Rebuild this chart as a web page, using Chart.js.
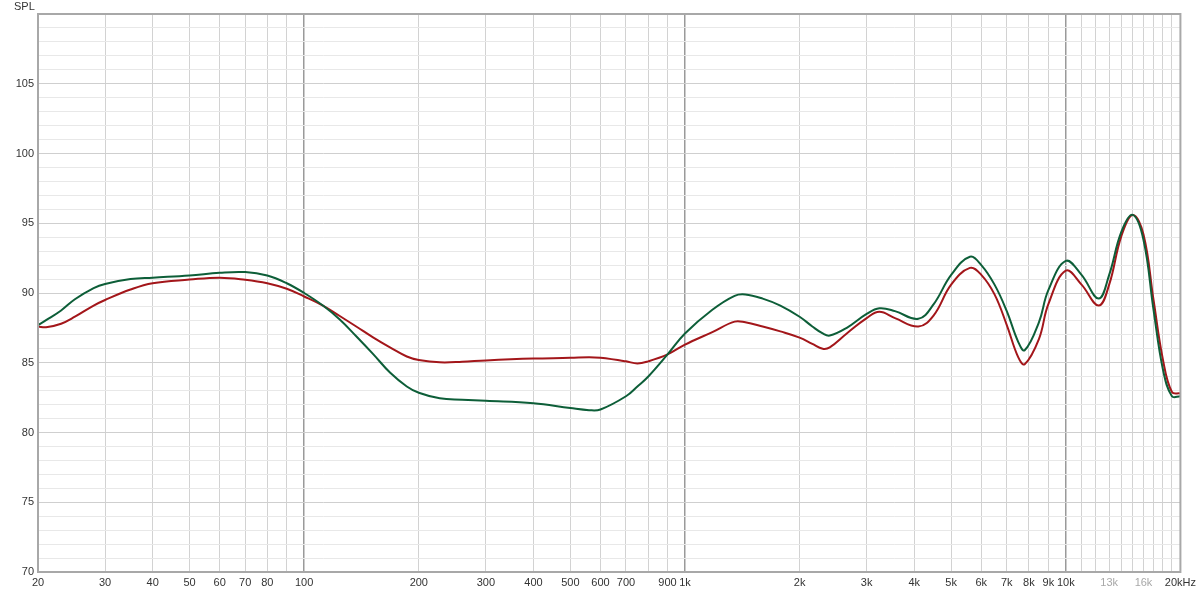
<!DOCTYPE html>
<html>
<head>
<meta charset="utf-8">
<script src="https://cdn.jsdelivr.net/npm/chart.js@4"></script>
<style>
	body { margin: 0; background: #fff; }
	#wrap { width: 1200px; height: 594px; }
</style>
</head>
<body>
<div id="wrap"><canvas id="fr" width="1200" height="594"></canvas></div>
<script>
// frequency points (Hz)
const freqs = [20, 21, 23, 25, 28, 30, 35, 40, 50, 60, 70, 80, 90, 100, 112, 124, 137, 152, 168, 186, 200, 227, 260, 300, 400, 500, 560, 600, 700, 750, 800, 900, 1000, 1180, 1350, 1440, 1600, 1780, 2000, 2160, 2300, 2400, 2660, 3000, 3240, 3560, 4100, 4500, 5000, 5600, 6000, 6500, 7000, 7500, 7800, 8500, 9000, 10000, 11000, 12200, 13000, 14000, 15000, 16000, 17000, 18000, 19000, 20000];

// green curve (dB SPL)
const greenDb = [87.7, 88.05, 88.75, 89.55, 90.35, 90.65, 91.0, 91.1, 91.25, 91.45, 91.5, 91.25, 90.7, 90.0, 89.1, 88.1, 86.9, 85.6, 84.3, 83.3, 82.85, 82.45, 82.35, 82.27, 82.1, 81.75, 81.6, 81.65, 82.6, 83.3, 84.0, 85.6, 87.1, 88.8, 89.8, 89.9, 89.6, 89.1, 88.3, 87.6, 87.1, 86.95, 87.5, 88.5, 88.9, 88.7, 88.15, 89.2, 91.3, 92.6, 92.0, 90.6, 88.7, 86.5, 85.9, 87.9, 90.2, 92.3, 91.3, 89.6, 91.3, 94.4, 95.6, 93.8, 88.8, 84.5, 82.6, 82.6];

// red curve (dB SPL)
const redDb = [87.6, 87.55, 87.8, 88.3, 89.1, 89.5, 90.25, 90.7, 90.96, 91.1, 90.95, 90.7, 90.3, 89.75, 89.1, 88.35, 87.6, 86.8, 86.1, 85.45, 85.2, 85.03, 85.07, 85.17, 85.3, 85.35, 85.4, 85.35, 85.1, 84.95, 85.1, 85.6, 86.3, 87.2, 87.95, 87.9, 87.6, 87.25, 86.8, 86.35, 86.0, 86.1, 87.1, 88.2, 88.65, 88.2, 87.6, 88.4, 90.6, 91.8, 91.3, 89.9, 87.7, 85.4, 84.9, 86.7, 89.2, 91.6, 90.6, 89.1, 90.6, 94.1, 95.6, 94.2, 89.5, 85.2, 82.9, 82.8];

// x grid lines and their labels ('' = line only)
const xTicks = [20, 30, 40, 50, 60, 70, 80, 90, 100, 200, 300, 400, 500, 600, 700, 800, 900, 1000, 2000, 3000, 4000, 5000, 6000, 7000, 8000, 9000, 10000, 11000, 12000, 13000, 14000, 15000, 16000, 17000, 18000, 19000, 20000];
const xLabels = ['20', '30', '40', '50', '60', '70', '80', '', '100', '200', '300', '400', '500', '600', '700', '', '900', '1k', '2k', '3k', '4k', '5k', '6k', '7k', '8k', '9k', '10k', '', '', '13k', '', '', '16k', '', '', '', '20kHz'];
const fadedLabels = [13000, 16000];
const decadeLines = [100, 1000, 10000];

const yLabels = [70, 75, 80, 85, 90, 95, 100, 105];

const toPoints = (ys) => freqs.map((f, i) => ({ x: f, y: ys[i] }));

const frame = {
	id: 'frame',
	afterDraw(chart) {
		const { ctx, chartArea: a } = chart;
		ctx.save();
		ctx.strokeStyle = '#a8a8a8';
		ctx.lineWidth = 2;
		ctx.strokeRect(a.left, a.top, a.right - a.left, a.bottom - a.top);
		ctx.fillStyle = '#333';
		ctx.font = '11px "Liberation Sans", Arial, sans-serif';
		ctx.textBaseline = 'middle';
		ctx.fillText('SPL', 14, 7);
		ctx.restore();
	}
};

new Chart(document.getElementById('fr').getContext('2d'), {
	type: 'line',
	data: {
		datasets: [
			{
				label: 'green',
				data: toPoints(greenDb),
				borderColor: '#0d5e38',
				borderWidth: 2,
				pointRadius: 0,
				tension: 0.4
			},
			{
				label: 'red',
				data: toPoints(redDb),
				borderColor: '#a3161a',
				borderWidth: 2,
				pointRadius: 0,
				tension: 0.4
			}
		]
	},
	options: {
		responsive: false,
		animation: false,
		layout: { padding: { top: 14, right: 19, left: 0, bottom: 0 } },
		plugins: {
			legend: { display: false },
			tooltip: { enabled: false }
		},
		scales: {
			x: {
				type: 'logarithmic',
				min: 20,
				max: 20000,
				border: { display: false },
				afterBuildTicks: (scale) => {
					scale.ticks = xTicks.map((v) => ({ value: v }));
				},
				afterFit: (scale) => { scale.height = 22; },
				grid: {
					drawTicks: false,
					color: (c) => decadeLines.includes(c.tick.value) ? '#9a9a9a' : '#d2d2d2',
					lineWidth: (c) => decadeLines.includes(c.tick.value) ? 1.5 : 1
				},
				ticks: {
					autoSkip: false,
					maxRotation: 0,
					padding: 4,
					font: { family: '"Liberation Sans", Arial, sans-serif', size: 11 },
					color: (c) => fadedLabels.includes(c.tick.value) ? '#a8a8a8' : '#333',
					callback: (v) => {
						const i = xTicks.indexOf(v);
						return i >= 0 ? xLabels[i] : '';
					}
				}
			},
			y: {
				min: 70,
				max: 110,
				border: { display: false },
				afterFit: (scale) => { scale.width = 38; },
				grid: {
					drawTicks: false,
					color: (c) => c.tick.value % 5 === 0 ? '#cfcfcf' : '#e8e8e8'
				},
				ticks: {
					stepSize: 1,
					autoSkip: false,
					padding: 4,
					font: { family: '"Liberation Sans", Arial, sans-serif', size: 11 },
					color: '#333',
					callback: (v) => yLabels.includes(v) ? String(v) : ''
				}
			}
		}
	},
	plugins: [frame]
});
</script>
</body>
</html>
